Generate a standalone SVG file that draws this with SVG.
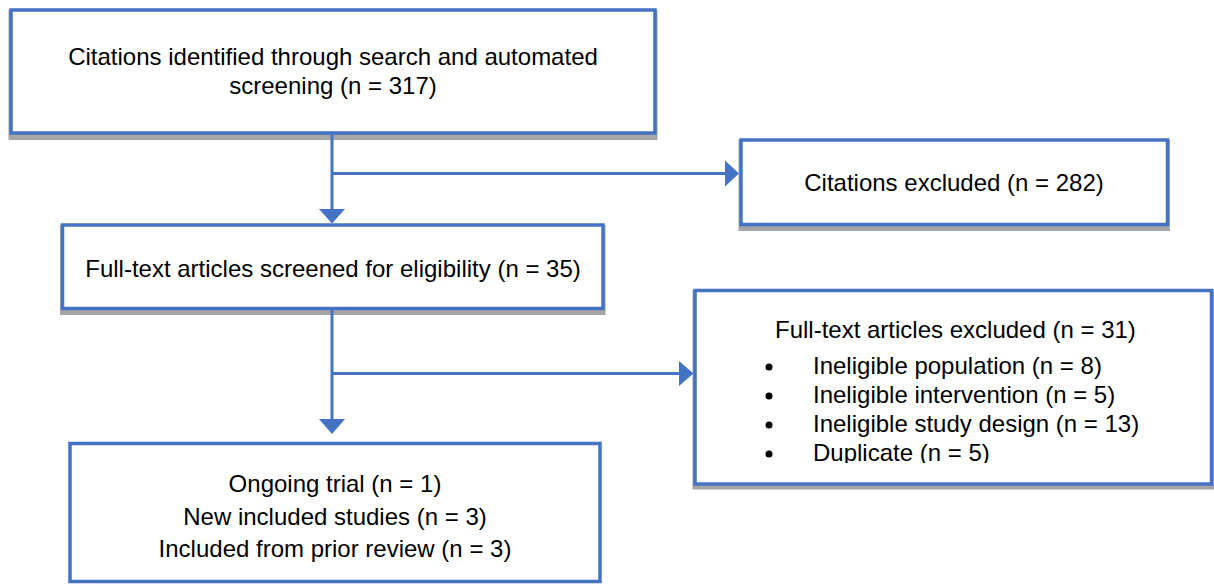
<svg xmlns="http://www.w3.org/2000/svg" width="1214" height="586" viewBox="0 0 1214 586">
  <style>
    .shadow { fill: #A6A6A6; }
    .box { fill: #FFFFFF; stroke: #4472C4; stroke-width: 3.5; }
    .conn { stroke: #4472C4; stroke-width: 3; fill: none; }
    .head { fill: #4472C4; }
    text { font-family: "Liberation Sans", Arial, sans-serif; font-size: 24px; fill: #000000; }
    .c { text-anchor: middle; }
  </style>
  <defs>
    <clipPath id="clip4">
      <rect x="697" y="292" width="513" height="171"/>
    </clipPath>
  </defs>
  <rect width="1214" height="586" fill="#FFFFFF"/>

  <g id="node-citations-identified">
    <rect class="shadow" x="8.5" y="10" width="649" height="130"/>
    <rect class="box" x="11" y="10" width="644" height="123"/>
    <text class="c" x="333" y="65">Citations identified through search and automated</text>
    <text class="c" x="333" y="94">screening (n = 317)</text>
  </g>

  <g id="node-citations-excluded">
    <rect class="shadow" x="738.5" y="140" width="431.5" height="91"/>
    <rect class="box" x="741" y="140" width="426.5" height="84.5"/>
    <text class="c" x="954" y="191">Citations excluded (n = 282)</text>
  </g>

  <g id="node-fulltext-screened">
    <rect class="shadow" x="60" y="225" width="545.5" height="90"/>
    <rect class="box" x="62.5" y="225" width="540.5" height="83.5"/>
    <text class="c" x="333" y="277">Full-text articles screened for eligibility (n = 35)</text>
  </g>

  <g id="node-fulltext-excluded">
    <rect class="shadow" x="692.5" y="290.5" width="521.5" height="199"/>
    <rect class="box" x="695" y="290.5" width="516.5" height="193.5"/>
    <g clip-path="url(#clip4)">
      <text x="775" y="338">Full-text articles excluded (n = 31)</text>
      <circle cx="769" cy="367" r="3.5"/>
      <text x="813" y="374">Ineligible population (n = 8)</text>
      <circle cx="769" cy="396" r="3.5"/>
      <text x="813" y="403">Ineligible intervention (n = 5)</text>
      <circle cx="769" cy="425" r="3.5"/>
      <text x="813" y="432">Ineligible study design (n = 13)</text>
      <circle cx="769" cy="454" r="3.5"/>
      <text x="813" y="461">Duplicate (n = 5)</text>
    </g>
  </g>

  <g id="node-included">
    <rect class="box" x="70" y="443.5" width="530" height="138"/>
    <text class="c" x="335" y="492">Ongoing trial (n = 1)</text>
    <text class="c" x="335" y="525">New included studies (n = 3)</text>
    <text class="c" x="335" y="557">Included from prior review (n = 3)</text>
  </g>

  <g id="connectors">
    <path class="conn" d="M332 134.5 V210"/>
    <polygon class="head" points="319,209 345,209 332,223.5"/>
    <path class="conn" d="M332 173.5 H726"/>
    <polygon class="head" points="725,160.5 725,186.5 739,173.5"/>
    <path class="conn" d="M332 310 V420"/>
    <polygon class="head" points="319,419 345,419 332,434"/>
    <path class="conn" d="M332 373.5 H680"/>
    <polygon class="head" points="679,361 679,386 693.5,373.5"/>
  </g>
</svg>
